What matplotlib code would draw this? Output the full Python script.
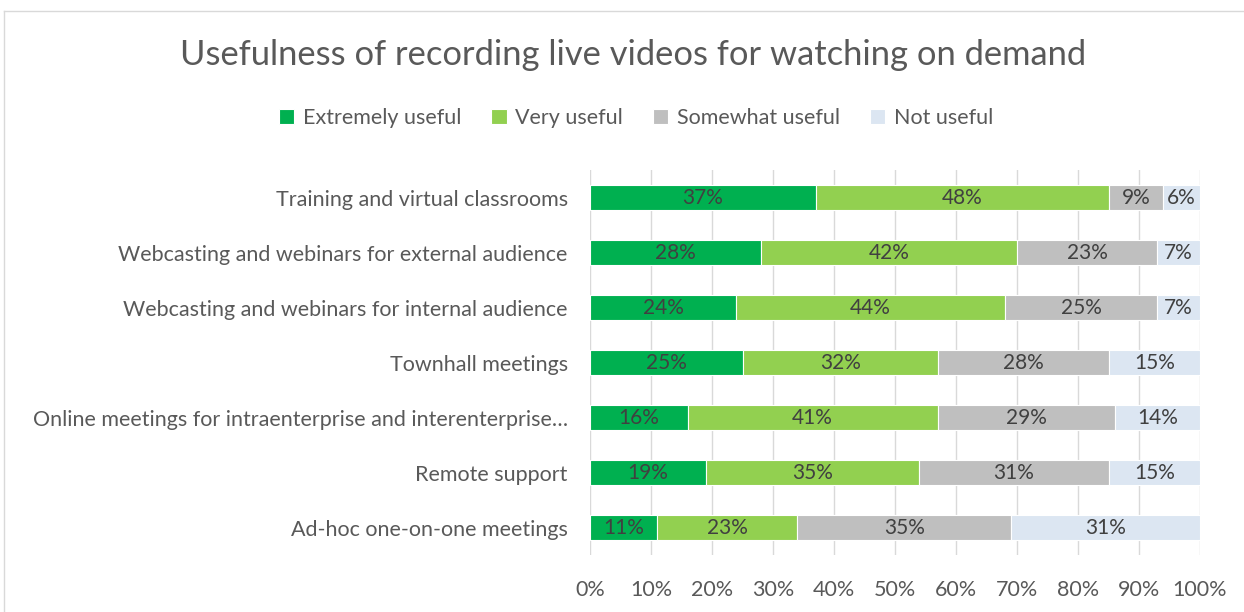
import matplotlib.pyplot as plt
from matplotlib.lines import Line2D

# Data
categories = [
    "Training and virtual classrooms",
    "Webcasting and webinars for external audience",
    "Webcasting and webinars for internal audience",
    "Townhall meetings",
    "Online meetings for intraenterprise and interenterprise\u2026",
    "Remote support",
    "Ad-hoc one-on-one meetings",
]
extremely_useful = [37, 28, 24, 25, 16, 19, 11]
very_useful = [48, 42, 44, 32, 41, 35, 23]
somewhat_useful = [9, 23, 25, 28, 29, 31, 35]
not_useful = [6, 7, 7, 15, 14, 15, 31]

series_names = ["Extremely useful", "Very useful", "Somewhat useful", "Not useful"]
colors = ["#00B050", "#92D050", "#BFBFBF", "#DCE6F2"]
xticks = [0, 10, 20, 30, 40, 50, 60, 70, 80, 90, 100]

plt.rcParams['font.family'] = ['Lato', 'DejaVu Sans']

fig = plt.figure(figsize=(12.44, 6.12), dpi=100)
ax = fig.add_axes([590 / 1244, 1 - 555 / 612, 610 / 1244, 385 / 612])

# Outer chart border (cropped on right and bottom)
fig.add_artist(Line2D([4 / 1244, 1], [1 - 11 / 612, 1 - 11 / 612],
                      transform=fig.transFigure, color="#D9D9D9", linewidth=1))
fig.add_artist(Line2D([4 / 1244, 4 / 1244], [0, 1 - 11 / 612],
                      transform=fig.transFigure, color="#D9D9D9", linewidth=1))

ypos = list(range(len(categories)))
left = [0] * len(categories)
for name, vals, col in zip(series_names,
                           [extremely_useful, very_useful, somewhat_useful, not_useful],
                           colors):
    bars = ax.barh(ypos, vals, left=left, height=0.45, color=col,
                   edgecolor="white", linewidth=0.8, label=name, zorder=2)
    for b, v in zip(bars, vals):
        ax.text(b.get_x() + b.get_width() / 2, b.get_y() + b.get_height() / 2,
                f"{v}%", ha="center", va="center", fontsize=15,
                color="#404040", zorder=3)
    left = [l + v for l, v in zip(left, vals)]

ax.set_xlim(0, 100)
ax.set_ylim(len(categories) - 0.5, -0.5)
ax.set_yticks(ypos)
ax.set_yticklabels(categories, fontsize=15.5, color="#595959")
ax.set_xticks(xticks)
ax.set_xticklabels([f"{t}%" for t in xticks], fontsize=15.5, color="#595959")
ax.tick_params(axis="y", length=0, pad=16)
ax.tick_params(axis="x", length=0, pad=18)

ax.grid(axis="x", color="#D9D9D9", linewidth=1, zorder=0)
ax.set_axisbelow(True)
for s in ax.spines.values():
    s.set_visible(False)

fig.text(633 / 1244, 1 - 55 / 612, "Usefulness of recording live videos for watching on demand",
         ha="center", va="center", fontsize=24.8, color="#595959")

handles, labels = ax.get_legend_handles_labels()
fig.legend(handles, labels, loc="center", bbox_to_anchor=(636 / 1244, 1 - 118 / 612),
           ncol=4, frameon=False, fontsize=15.5, handlelength=0.7, handleheight=0.7,
           handletextpad=0.4, columnspacing=1.4, labelcolor="#595959")

fig.savefig("out.png", dpi=100)
